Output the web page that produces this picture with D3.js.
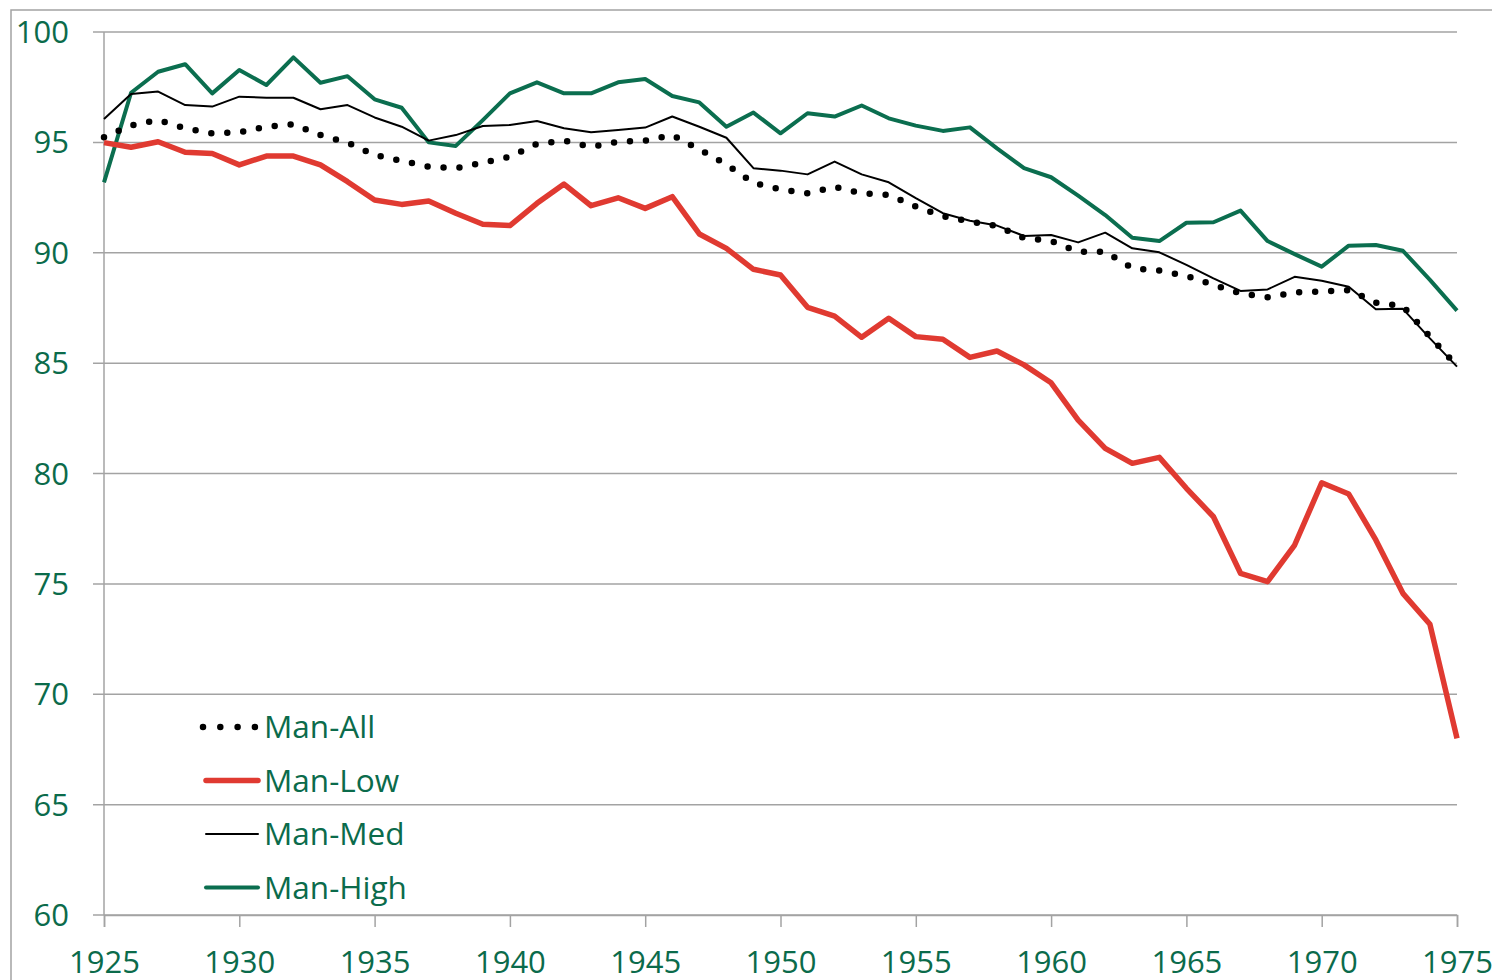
<!DOCTYPE html>
<html>
<head>
<meta charset="utf-8">
<script src="https://cdn.jsdelivr.net/npm/d3@7"></script>
<style>
  body { margin: 0; background: #fff; }
  svg { display: block; font-family: "Open Sans", sans-serif; }
</style>
</head>
<body>
<svg width="1492" height="980"></svg>
<script>
const years = d3.range(1925, 1976)

const manAll = [95.23, 95.77, 96.01, 95.64, 95.41, 95.46, 95.71, 95.82, 95.33, 94.99,
  94.43, 94.16, 93.90, 93.83, 94.08, 94.35, 94.93, 95.08, 94.79, 95.03,
  95.08, 95.33, 94.68, 94.00, 93.17, 92.87, 92.69, 92.99, 92.69, 92.62,
  92.09, 91.66, 91.41, 91.21, 90.67, 90.53, 90.05, 90.05, 89.30, 89.19,
  88.95, 88.54, 88.16, 87.98, 88.21, 88.24, 88.31, 87.74, 87.59, 86.20, 84.87]

const manLow = [94.99, 94.78, 95.03, 94.55, 94.50, 93.98, 94.38, 94.38, 93.98, 93.22,
  92.39, 92.19, 92.34, 91.79, 91.29, 91.23, 92.24, 93.11, 92.13, 92.49,
  92.01, 92.54, 90.85, 90.20, 89.25, 88.99, 87.53, 87.13, 86.17, 87.03,
  86.20, 86.08, 85.26, 85.55, 84.92, 84.11, 82.42, 81.14, 80.46, 80.73,
  79.33, 78.04, 75.48, 75.10, 76.76, 79.58, 79.07, 76.99, 74.57, 73.17, 68.00]

const manMed = [96.06, 97.19, 97.30, 96.69, 96.62, 97.07, 97.02, 97.02, 96.50, 96.69,
  96.13, 95.71, 95.08, 95.33, 95.74, 95.79, 95.97, 95.64, 95.46, 95.56,
  95.67, 96.17, 95.71, 95.21, 93.83, 93.72, 93.55, 94.13, 93.55, 93.19,
  92.47, 91.79, 91.45, 91.23, 90.76, 90.80, 90.47, 90.91, 90.20, 90.02,
  89.45, 88.84, 88.27, 88.34, 88.91, 88.73, 88.46, 87.44, 87.46, 86.12, 84.84]

const manHigh = [93.19, 97.25, 98.20, 98.54, 97.22, 98.28, 97.60, 98.85, 97.70, 98.00,
  96.95, 96.57, 95.00, 94.84, 96.01, 97.22, 97.72, 97.22, 97.22, 97.72,
  97.87, 97.10, 96.81, 95.71, 96.35, 95.41, 96.32, 96.17, 96.67, 96.09,
  95.76, 95.52, 95.68, 94.73, 93.83, 93.42, 92.59, 91.71, 90.68, 90.53,
  91.36, 91.38, 91.91, 90.53, 89.94, 89.37, 90.32, 90.35, 90.09, 88.77, 87.38]

const yTicks = [60, 65, 70, 75, 80, 85, 90, 95, 100]
const xTicks = [1925, 1930, 1935, 1940, 1945, 1950, 1955, 1960, 1965, 1970, 1975]

const green = '#0b6b4b'
const gray = '#a3a3a3'

// drawn in order: high, med, all, low (legend order differs)
const series = [
  { name: 'Man-High', values: manHigh, color: '#0b6e4f', width: 4, dash: null },
  { name: 'Man-Med', values: manMed, color: '#000', width: 2, dash: null },
  { name: 'Man-All', values: manAll, color: '#000', width: 6.5, dash: '0 16' },
  { name: 'Man-Low', values: manLow, color: '#e03a31', width: 5.5, dash: null }
]
const legendOrder = ['Man-All', 'Man-Low', 'Man-Med', 'Man-High']

const svg = d3.select('svg')

const x = d3.scaleLinear().domain([1925, 1975]).range([104, 1457])
const y = d3.scaleLinear().domain([60, 100]).range([915, 32])

// chart border
svg.append('rect')
  .attr('x', 11).attr('y', 10)
  .attr('width', 1500).attr('height', 1000)
  .attr('fill', 'none')
  .attr('stroke', gray)
  .attr('stroke-width', 1.5)

// horizontal gridlines
svg.append('g')
  .selectAll('line')
  .data(yTicks)
  .join('line')
  .attr('x1', 93).attr('x2', x(1975))
  .attr('y1', d => y(d)).attr('y2', d => y(d))
  .attr('stroke', gray)
  .attr('stroke-width', 1.5)

// y axis
svg.append('line')
  .attr('x1', x(1925)).attr('x2', x(1925))
  .attr('y1', y(100)).attr('y2', y(60))
  .attr('stroke', gray).attr('stroke-width', 1.5)

svg.append('g')
  .selectAll('text')
  .data(yTicks)
  .join('text')
  .attr('x', 69)
  .attr('y', d => y(d) + 11)
  .attr('text-anchor', 'end')
  .attr('fill', green)
  .attr('font-size', 31)
  .text(d => d)

// x axis
const xAxis = svg.append('g')
  .attr('transform', `translate(0,${y(60)})`)
  .call(d3.axisBottom(x).tickValues(xTicks).tickFormat(d3.format('d')).tickSize(12).tickPadding(24))
xAxis.select('.domain').attr('stroke', gray).attr('stroke-width', 1.5)
xAxis.selectAll('.tick line').attr('stroke', gray).attr('stroke-width', 1.5)
xAxis.selectAll('.tick text')
  .attr('fill', green)
  .attr('font-size', 31)
  .attr('font-family', '"Open Sans", sans-serif')

// lines
const line = d3.line()
  .x((d, i) => x(years[i]))
  .y(d => y(d))

svg.append('g')
  .selectAll('path')
  .data(series)
  .join('path')
  .attr('d', d => line(d.values))
  .attr('fill', 'none')
  .attr('stroke', d => d.color)
  .attr('stroke-width', d => d.width)
  .attr('stroke-dasharray', d => d.dash)
  .attr('stroke-linecap', d => d.dash ? 'round' : 'butt')
  .attr('stroke-linejoin', 'round')

// legend
const legend = svg.append('g')
  .selectAll('g')
  .data(legendOrder.map(n => series.find(s => s.name === n)))
  .join('g')
  .attr('transform', (d, i) => `translate(0,${727 + i * 53.5})`)

legend.append('line')
  .attr('x1', d => d.dash ? 203 : 206).attr('x2', d => d.dash ? 256 : 258)
  .attr('stroke', d => d.color)
  .attr('stroke-width', d => d.dash ? 6.5 : d.width)
  .attr('stroke-dasharray', d => d.dash ? '0 17.3' : null)
  .attr('stroke-linecap', 'round')

legend.append('text')
  .attr('x', 264)
  .attr('y', 11)
  .attr('fill', green)
  .attr('font-size', 31.5)
  .text(d => d.name)
</script>
</body>
</html>
